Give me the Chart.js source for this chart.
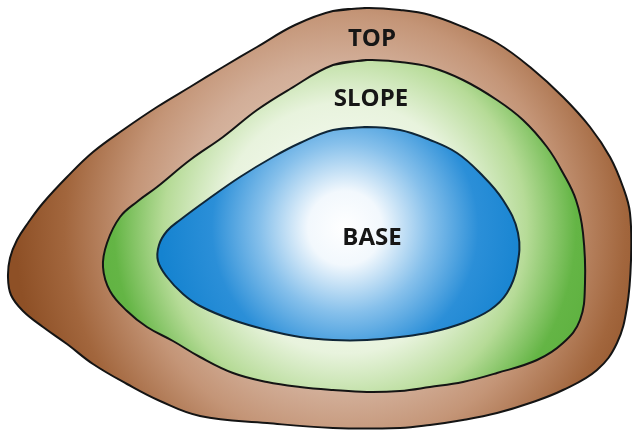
<!DOCTYPE html>
<html>
<head>
<meta charset="utf-8">
<script src="https://cdn.jsdelivr.net/npm/chart.js@4/dist/chart.umd.min.js"></script>
<style>
  html, body { margin: 0; padding: 0; background: #ffffff; }
  #wrap { width: 632px; height: 434px; }
</style>
</head>
<body>
<div id="wrap"><canvas id="diagram"></canvas></div>
<script>
// outline of each zone (x right, y down)
const topX = [333, 367, 400, 430, 463, 497, 530, 563, 590, 610, 623, 630, 631, 627, 617, 597, 563, 530, 497, 463, 430, 400, 333, 267, 200, 160, 127, 93, 67, 43, 23, 11, 8, 10, 17, 28, 43, 67, 93, 123, 157, 190, 223, 257, 295];
const topY = [11, 8, 10, 15, 27, 43, 67, 97, 127, 157, 187, 213, 260, 307, 343, 370, 390, 403, 413, 420, 425, 428, 428, 423, 416, 401, 384, 364, 344, 327, 311, 295, 277, 258, 240, 223, 203, 177, 152, 130, 107, 87, 67, 47, 25];

const slopeX = [333, 367, 400, 430, 463, 497, 523, 547, 563, 576, 583, 585, 580, 563, 537, 497, 463, 430, 400, 367, 333, 300, 267, 233, 200, 173, 147, 127, 110, 103, 107, 120, 138, 157, 190, 223, 257, 290];
const slopeY = [65, 60, 62, 67, 80, 100, 120, 147, 173, 200, 233, 283, 320, 343, 360, 373, 382, 387, 391, 392, 390, 387, 382, 373, 357, 341, 327, 311, 291, 267, 243, 217, 201, 187, 160, 137, 110, 89];

const baseX = [333, 367, 400, 430, 457, 480, 503, 518, 517, 507, 490, 463, 432, 400, 367, 333, 300, 267, 233, 200, 183, 167, 158, 159, 167, 180, 207, 240, 273, 300];
const baseY = [130, 127, 130, 140, 153, 173, 200, 233, 267, 293, 310, 323, 332, 337, 340, 340, 337, 330, 320, 306, 294, 277, 261, 245, 231, 220, 200, 177, 157, 143];

const zoneNames = ["BASE", "SLOPE", "TOP"];
const labelX = [372, 371, 372];
const labelY = [238, 99, 39];

function toPoints(xs, ys) {
  const pts = xs.map((x, i) => ({ x: x, y: ys[i] }));
  // repeat the first two points so the closed outline stays smooth
  return pts.concat([pts[0], pts[1]]);
}

function radial(chart, cx, cy, r, stops) {
  const sx = chart.scales.x;
  const sy = chart.scales.y;
  const px = sx.getPixelForValue(cx);
  const py = sy.getPixelForValue(cy);
  const pr = Math.abs(sx.getPixelForValue(cx + r) - px);
  const g = chart.ctx.createRadialGradient(px, py, 0, px, py, pr);
  stops.forEach(s => g.addColorStop(s[0], s[1]));
  return g;
}

const fills = {
  BASE: ctx => {
    if (!ctx.chart.chartArea) return "#2a8fd8";
    return radial(ctx.chart, 345, 228, 185, [
      [0, "#ffffff"], [0.2, "#f2f8fd"], [0.46, "#86c0eb"], [0.72, "#2b8fd8"], [1, "#1583d0"]
    ]);
  },
  SLOPE: ctx => {
    if (!ctx.chart.chartArea) return "#8cc870";
    return radial(ctx.chart, 345, 228, 330, [
      [0, "#ffffff"], [0.38, "#e8f3dd"], [0.55, "#b6db97"], [0.7, "#64b545"], [1, "#4fa832"]
    ]);
  },
  TOP: ctx => {
    if (!ctx.chart.chartArea) return "#b07a55";
    return radial(ctx.chart, 345, 228, 330, [
      [0, "#f0dccc"], [0.5, "#d2ae98"], [0.65, "#c49577"], [0.85, "#a2663d"], [1, "#8e5026"]
    ]);
  }
};

const zoneLabels = {
  id: "zoneLabels",
  afterDatasetsDraw(chart) {
    const c = chart.ctx;
    c.save();
    c.font = "bold 24px 'Open Sans', sans-serif";
    c.fillStyle = "#161616";
    c.textAlign = "center";
    c.textBaseline = "middle";
    zoneNames.forEach((name, i) => {
      c.fillText(name, chart.scales.x.getPixelForValue(labelX[i]), chart.scales.y.getPixelForValue(labelY[i]));
    });
    c.restore();
  }
};

const outline = {
  type: "line",
  showLine: true,
  fill: "shape",
  tension: 0.4,
  borderColor: "#141414",
  borderWidth: 2,
  pointRadius: 0
};

new Chart(document.getElementById("diagram"), {
  type: "scatter",
  data: {
    datasets: [
      Object.assign({}, outline, { label: "BASE", data: toPoints(baseX, baseY), backgroundColor: fills.BASE, borderColor: "#0f2638" }),
      Object.assign({}, outline, { label: "SLOPE", data: toPoints(slopeX, slopeY), backgroundColor: fills.SLOPE }),
      Object.assign({}, outline, { label: "TOP", data: toPoints(topX, topY), backgroundColor: fills.TOP })
    ]
  },
  options: {
    responsive: true,
    maintainAspectRatio: false,
    animation: false,
    layout: { padding: 0 },
    plugins: {
      legend: { display: false },
      tooltip: { enabled: false }
    },
    scales: {
      x: { type: "linear", min: 0, max: 632, display: false },
      y: { type: "linear", min: 0, max: 434, reverse: true, display: false }
    }
  },
  plugins: [zoneLabels]
});
</script>
</body>
</html>
